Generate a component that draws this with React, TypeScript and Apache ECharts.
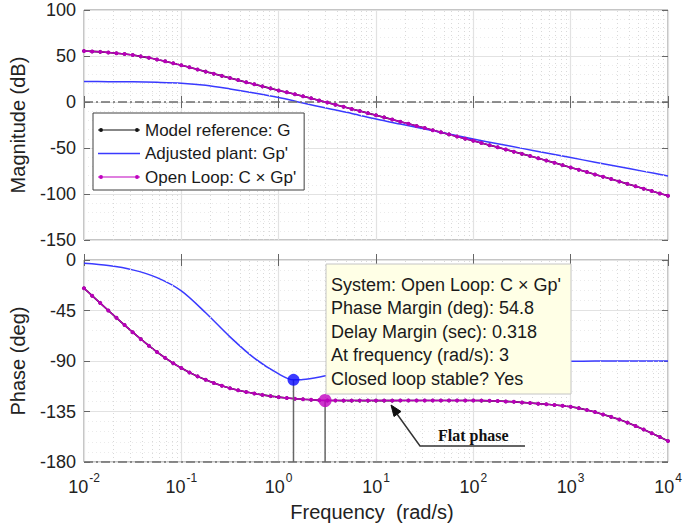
import { useEffect, useRef } from 'react';
import * as echarts from 'echarts';

const FONT = '"Liberation Sans", Arial, sans-serif';

// Open loop C x Gp' (and model reference G, which coincides with it)
const freqOL = [
  0.01, 0.01212, 0.01468, 0.01778, 0.02154, 0.0261, 0.03162, 0.03831, 0.04642, 0.05623, 0.06813, 0.08254,
  0.1, 0.1212, 0.1468, 0.1778, 0.2154, 0.261, 0.3162, 0.3831, 0.4642, 0.5623, 0.6813, 0.8254,
  1, 1.212, 1.468, 1.778, 2.154, 2.61, 3.162, 3.831, 4.642, 5.623, 6.813, 8.254,
  10, 12.12, 14.68, 17.78, 21.54, 26.1, 31.62, 38.31, 46.42, 56.23, 68.13, 82.54,
  100, 121.2, 146.8, 177.8, 215.4, 261, 316.2, 383.1, 464.2, 562.3, 681.3, 825.4,
  1000, 1212, 1468, 1778, 2154, 2610, 3162, 3831, 4642, 5623, 6813, 8254,
  10000,
];
const magOL = [
  55.5, 55.0, 54.5, 53.8, 53.0, 52.1, 51.0, 49.6, 48.0, 46.2, 44.2, 42.1,
  40.0, 37.7, 35.4, 33.0, 30.7, 28.4, 26.1, 23.8, 21.5, 19.2, 17.0, 14.8,
  12.6, 10.5, 8.4, 6.3, 4.0, 1.7, -0.6, -2.9, -5.2, -7.5, -9.8, -12.1,
  -14.4, -16.7, -19.0, -21.4, -23.7, -26.0, -28.3, -30.6, -32.9, -35.2, -37.6, -39.9,
  -42.2, -44.5, -46.9, -49.2, -51.6, -54.0, -56.4, -58.8, -61.2, -63.7, -66.1, -68.6,
  -71.1, -73.6, -76.1, -78.7, -81.2, -83.8, -86.4, -89.0, -91.6, -94.2, -96.8, -99.4,
  -102.0,
];
const phaseOL = [
  -25.2, -31.8, -38.4, -45.0, -51.5, -58.0, -64.3, -70.5, -76.4, -82.0, -87.2, -92.0,
  -96.3, -100.2, -103.7, -106.8, -109.6, -112.0, -114.2, -116.0, -117.6, -119.0, -120.2, -121.3,
  -122.2, -123.0, -123.6, -124.1, -124.5, -125.0, -125.2, -125.2, -125.3, -125.3, -125.3, -125.3,
  -125.3, -125.3, -125.3, -125.2, -125.2, -125.2, -125.2, -125.2, -125.2, -125.2, -125.2, -125.2,
  -125.2, -125.3, -125.5, -125.7, -126.0, -126.4, -126.9, -127.4, -128.0, -128.6, -129.2, -129.9,
  -130.8, -132.0, -133.6, -135.5, -137.6, -139.8, -142.2, -144.9, -147.9, -151.1, -154.4, -157.8,
  -161.2,
];

// Adjusted plant Gp'
const freqGp = [
  0.01, 0.01778, 0.03162, 0.05623, 0.1, 0.1778, 0.3162, 0.5623, 1, 1.42, 1.778, 3.162, 5.623,
  10, 17.78, 31.62, 56.23, 100, 177.8, 316.2, 562.3, 1000, 1778, 3162, 5623, 10000,
];
const magGp = [
  22.2, 22.1, 21.9, 21.4, 20.5, 18.2, 14.2, 9.7, 4.8, 1.3, -1.1, -6.9, -12.4,
  -18.5, -24.0, -29.4, -34.8, -40.3, -45.3, -50.4, -55.4, -60.4, -65.4, -70.4, -75.4, -80.4,
];
const phaseGp = [
  -3.0, -5.0, -8.8, -15.7, -27.5, -47.0, -68.5, -87.5, -101.5, -106.8, -106.5, -103.0, -99.5,
  -97.0, -95.0, -93.5, -92.4, -91.6, -91.0, -90.6, -90.4, -90.2, -90.1, -90.05, -90.0, -90.0,
];

// Marked points (frequency, phase)
const gpMark = [1.42, -106.8];
const pmMark = [3, -125.2];

const decades = [0.01, 0.1, 1, 10, 100, 1000];
const minorMult = [2, 3, 4, 5, 6, 7, 8, 9];
const minorFreqs = decades.flatMap((d) => minorMult.map((m) => +(d * m).toPrecision(3)));

const seriesNames = ['Model reference: G', "Adjusted plant: Gp'", "Open Loop: C \u00d7 Gp'"];
const annotationLines = [
  "System: Open Loop: C \u00d7 Gp'",
  'Phase Margin (deg): 54.8',
  'Delay Margin (sec): 0.318',
  'At frequency (rad/s): 3',
  'Closed loop stable? Yes',
];

const BLACK = '#111111';
const BLUE = '#3a3aff';
const MAGENTA = '#b800b8';

// legend icons: a line, optionally with small dots at both ends
const ICON_DOTTED =
  'path://M0 1.4H42V2.6H0Z M1 2A2 2 0 1 1 5 2A2 2 0 1 1 1 2Z M37 2A2 2 0 1 1 41 2A2 2 0 1 1 37 2Z';
const ICON_PLAIN = 'path://M0 0H42V1.3H0Z';

export default function App() {
  const ref = useRef<HTMLDivElement>(null);
  useEffect(() => {
    if (!ref.current) return;
    const chart = echarts.init(ref.current, undefined, { renderer: 'svg' });

    const grids = [
      { left: 76, right: 17, top: 10, height: 230 },
      { left: 76, right: 17, top: 260, height: 202 },
    ];

    const xBase = (gridIndex: number, position: 'top' | 'bottom', labels: boolean) => ({
      type: 'log',
      logBase: 10,
      gridIndex,
      position,
      min: 0.01,
      max: 10000,
      splitNumber: 6,
      axisLine: { show: false },
      axisTick: { show: true, inside: true, length: 6, lineStyle: { color: '#666' } },
      splitLine: { show: position === 'bottom', lineStyle: { color: '#e2e2e2', width: 1.2 } },
      axisLabel: labels
        ? {
            show: true,
            margin: 10,
            formatter: (v: number) => `{b|10}{e|${Math.round(Math.log10(v))}}`,
            rich: {
              b: { fontSize: 18, fontFamily: FONT, color: '#222', verticalAlign: 'bottom', lineHeight: 24 },
              e: { fontSize: 12, fontFamily: FONT, color: '#222', verticalAlign: 'top', lineHeight: 24, padding: [0, 0, 0, 1] },
            },
          }
        : { show: false },
      name: labels ? 'Frequency  (rad/s)' : '',
      nameLocation: 'middle',
      nameGap: 40,
      nameTextStyle: { fontSize: 20, fontFamily: FONT, color: '#222', padding: [0, 8, 0, 0] },
    });

    const yBase = (gridIndex: number, position: 'left' | 'right', min: number, max: number, interval: number, name: string) => ({
      type: 'value',
      gridIndex,
      position,
      min,
      max,
      interval,
      axisLine: { show: false },
      axisTick: { show: true, inside: true, length: 6, lineStyle: { color: '#666' } },
      minorTick: { show: false, splitNumber: 5 },
      splitLine: { show: position === 'left', lineStyle: { color: '#e2e2e2', width: 1.2 } },
      minorSplitLine: { show: position === 'left', lineStyle: { color: '#ebebeb', type: [1, 3] } },
      axisLabel: position === 'left'
        ? { show: true, fontSize: 18, fontFamily: FONT, color: '#222', margin: 8 }
        : { show: false },
      name: position === 'left' ? name : '',
      nameLocation: 'middle',
      nameGap: 56,
      nameTextStyle: { fontSize: 20, fontFamily: FONT, color: '#222' },
    });

    const dashDot = { color: '#6e6e6e', width: 1.6, type: [9, 3, 2, 3] };
    const minorLineStyle = { color: '#d9d9d9', width: 1, type: [1, 3] };

    const pairs = (xs: number[], ys: number[]) => xs.map((x, i) => [x, ys[i]]);

    const option = {
      animation: false,
      grid: grids.map((g) => ({ ...g, show: true, borderColor: '#8a8a8a', borderWidth: 1, backgroundColor: '#fff' })),
      xAxis: [xBase(0, 'bottom', false), xBase(0, 'top', false), xBase(1, 'bottom', true), xBase(1, 'top', false)],
      yAxis: [
        yBase(0, 'left', -150, 100, 50, 'Magnitude (dB)'),
        yBase(0, 'right', -150, 100, 50, ''),
        yBase(1, 'left', -180, 0, 45, 'Phase (deg)'),
        yBase(1, 'right', -180, 0, 45, ''),
      ],
      legend: {
        data: [
          { name: seriesNames[0], icon: ICON_DOTTED, itemStyle: { color: BLACK } },
          { name: seriesNames[1], icon: ICON_PLAIN, itemStyle: { color: BLUE } },
          { name: seriesNames[2], icon: ICON_DOTTED, itemStyle: { color: '#c000c0' } },
        ],
        orient: 'vertical',
        left: 93,
        top: 113,
        padding: [7, 8, 3, 5],
        itemGap: 3.5,
        itemWidth: 42,
        itemHeight: 4,
        backgroundColor: '#fff',
        borderColor: '#404040',
        borderWidth: 1,
        borderRadius: 0,
        textStyle: { fontSize: 17, fontFamily: FONT, color: '#1a1a1a', lineHeight: 20 },
        z: 50,
      },
      graphic: [
        {
          type: 'rect',
          z: 100,
          shape: { x: 326, y: 264, width: 245, height: 130 },
          style: { fill: '#ffffe6', stroke: '#c4c4c4', lineWidth: 1 },
        },
        {
          type: 'text',
          z: 101,
          x: 331,
          y: 273,
          style: {
            text: annotationLines.join('\n'),
            font: `18px ${FONT}`,
            lineHeight: 23.5,
            fill: '#1a1a1a',
            verticalAlign: 'top',
          },
        },
        {
          type: 'text',
          z: 101,
          x: 438,
          y: 435,
          style: { text: 'Flat phase', font: 'bold 16px "Liberation Serif", serif', fill: '#111', verticalAlign: 'middle' },
        },
        {
          type: 'polyline',
          z: 101,
          shape: { points: [[525, 446], [420, 446], [397, 414]] },
          style: { stroke: '#333', lineWidth: 1.5, fill: null },
        },
        {
          type: 'polygon',
          z: 101,
          shape: { points: [[391, 405], [401, 411.5], [394, 416.5]] },
          style: { fill: '#111', stroke: '#111', lineWidth: 1 },
        },
      ],
      series: [
        // guides in the magnitude plot
        {
          type: 'line', xAxisIndex: 0, yAxisIndex: 0, data: [], silent: true,
          markLine: {
            silent: true, symbol: 'none', label: { show: false }, animation: false,
            data: [
              ...minorFreqs.map((f) => ({ xAxis: f, lineStyle: minorLineStyle })),
              { yAxis: 0, lineStyle: dashDot },
            ],
          },
        },
        // guides in the phase plot
        {
          type: 'line', xAxisIndex: 2, yAxisIndex: 2, data: [], silent: true,
          markLine: {
            silent: true, symbol: 'none', label: { show: false }, animation: false,
            data: [
              ...minorFreqs.map((f) => ({ xAxis: f, lineStyle: minorLineStyle })),
              { yAxis: -180, lineStyle: dashDot },
            ],
          },
        },
        // magnitude
        {
          name: seriesNames[0], type: 'line', xAxisIndex: 0, yAxisIndex: 0,
          data: pairs(freqOL, magOL), symbol: 'circle', symbolSize: 3.5, showSymbol: true,
          lineStyle: { color: BLACK, width: 1.6 }, itemStyle: { color: BLACK }, z: 3,
        },
        {
          name: seriesNames[1], type: 'line', xAxisIndex: 0, yAxisIndex: 0,
          data: pairs(freqGp, magGp), symbol: 'none', smooth: 0.3,
          lineStyle: { color: BLUE, width: 1.5 }, itemStyle: { color: BLUE }, z: 4,
        },
        {
          name: seriesNames[2], type: 'line', xAxisIndex: 0, yAxisIndex: 0,
          data: pairs(freqOL, magOL), symbol: 'circle', symbolSize: 4, showSymbol: true,
          lineStyle: { color: MAGENTA, width: 1.5 }, itemStyle: { color: MAGENTA }, z: 5,
        },
        // phase
        {
          name: seriesNames[0], type: 'line', xAxisIndex: 2, yAxisIndex: 2,
          data: pairs(freqOL, phaseOL), symbol: 'circle', symbolSize: 3.5, showSymbol: true,
          lineStyle: { color: BLACK, width: 1.6 }, itemStyle: { color: BLACK }, z: 3,
        },
        {
          name: seriesNames[1], type: 'line', xAxisIndex: 2, yAxisIndex: 2,
          data: pairs(freqGp, phaseGp), symbol: 'none', smooth: 0.3,
          lineStyle: { color: BLUE, width: 1.5 }, itemStyle: { color: BLUE }, z: 4,
        },
        {
          name: seriesNames[2], type: 'line', xAxisIndex: 2, yAxisIndex: 2,
          data: pairs(freqOL, phaseOL), symbol: 'circle', symbolSize: 4, showSymbol: true,
          lineStyle: { color: MAGENTA, width: 1.5 }, itemStyle: { color: MAGENTA }, z: 5,
        },
        // stems
        {
          type: 'line', xAxisIndex: 2, yAxisIndex: 2, symbol: 'none', silent: true,
          data: [[gpMark[0], gpMark[1]], [gpMark[0], -180]],
          lineStyle: { color: '#666', width: 1.5 }, z: 6,
        },
        {
          type: 'line', xAxisIndex: 2, yAxisIndex: 2, symbol: 'none', silent: true,
          data: [[pmMark[0], pmMark[1]], [pmMark[0], -180]],
          lineStyle: { color: '#666', width: 1.5 }, z: 6,
        },
        // marker dots
        {
          type: 'scatter', xAxisIndex: 2, yAxisIndex: 2, silent: true, z: 7,
          data: [
            { value: gpMark, symbolSize: 12, itemStyle: { color: '#0a0aff' } },
            { value: pmMark, symbolSize: 13, itemStyle: { color: '#c000c0' } },
          ],
        },
      ],
    };

    chart.setOption(option as any);
    return () => chart.dispose();
  }, []);

  return (
    <div
      ref={ref}
      style={{ position: 'fixed', left: 0, top: 0, width: 685, height: 529, background: '#fff' }}
    />
  );
}
